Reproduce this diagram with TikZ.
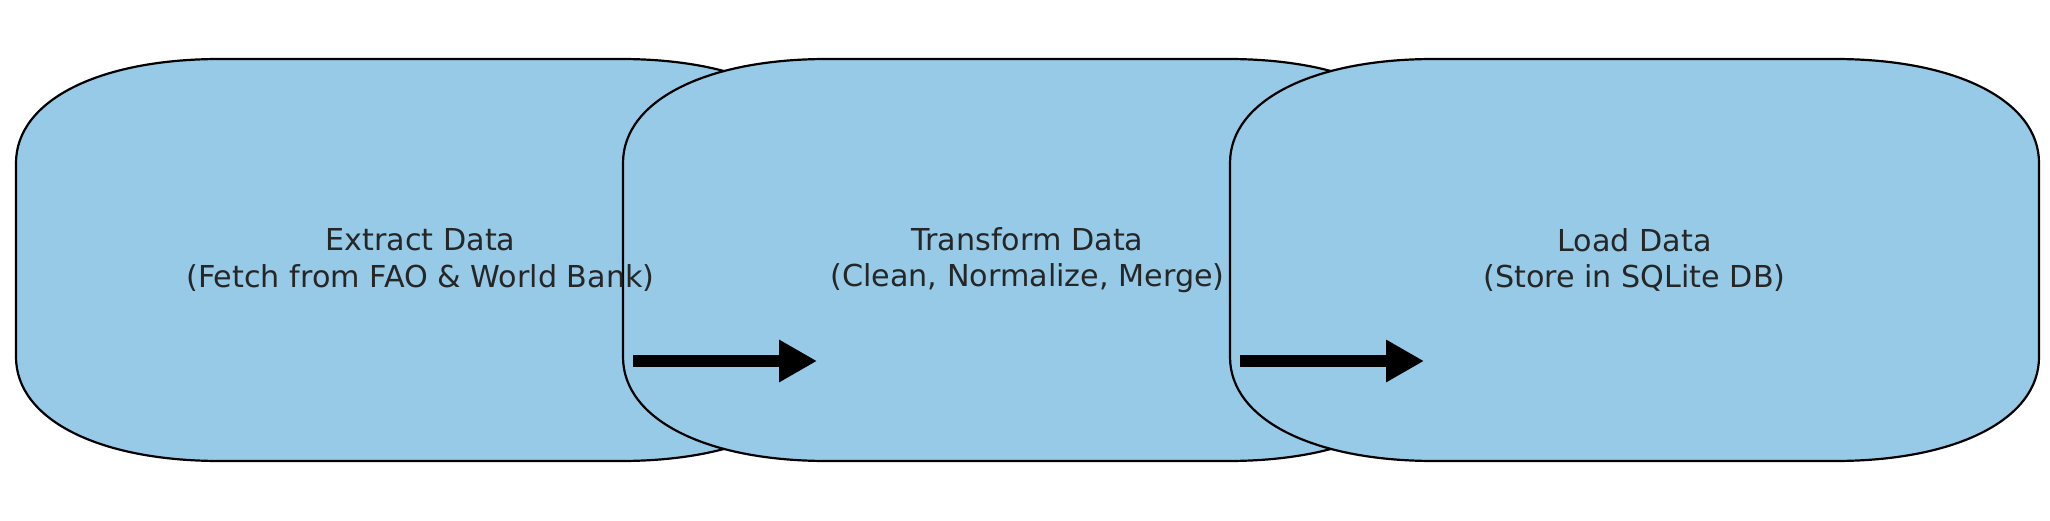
\documentclass[tikz,border=0pt]{standalone}
\usepackage{fontspec}
\setmainfont{DejaVu Sans}
\usepackage{tikz}
\usetikzlibrary{arrows.meta,calc,positioning}

\definecolor{stageblue}{HTML}{96CAE7}
\definecolor{labelgray}{HTML}{262626}

\begin{document}
\begin{tikzpicture}[>={Triangle[length=19pt,width=20pt]},
		stage/.style={rectangle,draw=none,inner sep=0pt,outer sep=0pt,minimum width=404.5pt,minimum height=201pt},
		stageline/.style={draw=black,line width=1.1pt,fill=stageblue},
		stagetext/.style={align=center,text=labelgray,font=\fontsize{15.1}{18.2}\selectfont},
		flow/.style={->,line width=6pt}]
			\useasboundingbox (0,0) rectangle (1025pt,260pt);
			\node[stage] at (210.25pt,130pt) (extract) {};
			\node[stage] [right=-101pt of extract] (transform) {};
			\node[stage] [right=-101pt of transform] (load) {};
			% rounded outlines, later ones on top
			\foreach \s in {extract,transform,load}
				\path[stageline] ([xshift=102pt]\s.north west) -- ([xshift=-102pt]\s.north east)
					.. controls ([xshift=-41pt]\s.north east) and ([yshift=-21pt]\s.north east) .. ([yshift=-52pt]\s.north east)
					-- ([yshift=52pt]\s.south east)
					.. controls ([yshift=21pt]\s.south east) and ([xshift=-41pt]\s.south east) .. ([xshift=-102pt]\s.south east)
					-- ([xshift=102pt]\s.south west)
					.. controls ([xshift=41pt]\s.south west) and ([yshift=21pt]\s.south west) .. ([yshift=52pt]\s.south west)
					-- ([yshift=-52pt]\s.north west)
					.. controls ([yshift=-21pt]\s.north west) and ([xshift=41pt]\s.north west) .. cycle;
			\node[stagetext] at (extract) (extract_t) {Extract Data\\(Fetch from FAO \& World Bank)};
			\node[stagetext] at (transform) (transform_t) {Transform Data\\(Clean, Normalize, Merge)};
			\node[stagetext] at (load) (load_t) {Load Data\\(Store in SQLite DB)};
			% arrows
			\coordinate (a_0) at ([shift={(5pt,-50.5pt)}]transform.west);
			\coordinate (a_1) at ([shift={(97pt,-50.5pt)}]transform.west);
			\coordinate (b_0) at ([shift={(5pt,-50.5pt)}]load.west);
			\coordinate (b_1) at ([shift={(97pt,-50.5pt)}]load.west);
			\draw[flow] (a_0) -- (a_1);
			\draw[flow] (b_0) -- (b_1);
		\end{tikzpicture}
\end{document}
